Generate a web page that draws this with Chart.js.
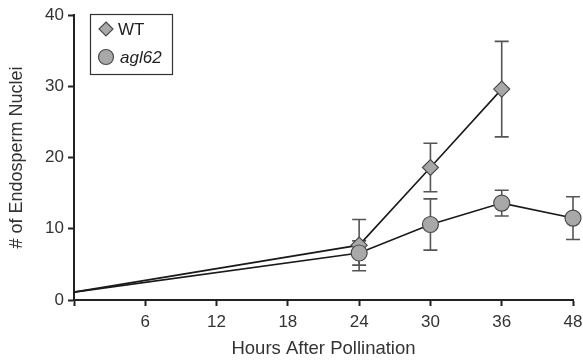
<!DOCTYPE html>
<html>
<head>
<meta charset="utf-8">
<script src="https://cdn.jsdelivr.net/npm/chart.js@4.4.0/dist/chart.umd.min.js"></script>
<style>
  html, body { margin: 0; padding: 0; background: #fff; }
  #wrap { width: 583px; height: 360px; }
</style>
</head>
<body>
<div id="wrap"><canvas id="grafico" width="583" height="360"></canvas></div>
<script>
// Datos
const horas = ['0', '6', '12', '18', '24', '30', '36', '48'];
const wtMedia = [1.1, null, null, null, 7.7, 18.6, 29.6, null];
const wtError = [0, null, null, null, 3.6, 3.4, 6.7, null];
const aglMedia = [1.1, null, null, null, 6.6, 10.6, 13.6, 11.5];
const aglError = [0, null, null, null, 1.7, 3.6, 1.8, 3.0];
const yTicks = [0, 10, 20, 30, 40];

const FUENTE = '"Liberation Sans", Arial, sans-serif';
const GRIS = '#a8a8a8';
const BORDE = '#4a4a4a';

// Plugin para barras de error (detrás de los marcadores)
const barrasError = {
  id: 'barrasError',
  beforeDatasetsDraw(chart) {
    const ctx = chart.ctx;
    const x = chart.scales.x, y = chart.scales.y;
    ctx.save();
    ctx.strokeStyle = '#555';
    ctx.lineWidth = 1.6;
    [[wtMedia, wtError], [aglMedia, aglError]].forEach(([med, err]) => {
      med.forEach((v, i) => {
        if (v === null || !err[i]) return;
        const px = x.getPixelForValue(i);
        const top = y.getPixelForValue(v + err[i]);
        const bot = y.getPixelForValue(v - err[i]);
        ctx.beginPath();
        ctx.moveTo(px, top); ctx.lineTo(px, bot);
        ctx.moveTo(px - 7, top); ctx.lineTo(px + 7, top);
        ctx.moveTo(px - 7, bot); ctx.lineTo(px + 7, bot);
        ctx.stroke();
      });
    });
    ctx.restore();
  }
};

// Leyenda dentro del área del gráfico
const leyenda = {
  id: 'leyenda',
  afterDraw(chart) {
    const ctx = chart.ctx;
    ctx.save();
    ctx.strokeStyle = '#333';
    ctx.lineWidth = 1.2;
    ctx.strokeRect(90.5, 14.5, 82, 60);
    // rombo
    ctx.fillStyle = GRIS;
    ctx.strokeStyle = BORDE;
    ctx.beginPath();
    ctx.moveTo(106, 22); ctx.lineTo(113, 29); ctx.lineTo(106, 36); ctx.lineTo(99, 29);
    ctx.closePath(); ctx.fill(); ctx.stroke();
    // círculo
    ctx.beginPath();
    ctx.arc(106, 57, 7.5, 0, Math.PI * 2);
    ctx.fill(); ctx.stroke();
    ctx.fillStyle = '#222';
    ctx.textBaseline = 'middle';
    ctx.font = '17px ' + FUENTE;
    ctx.fillText('WT', 118, 30);
    ctx.font = 'italic 17px ' + FUENTE;
    ctx.fillText('agl62', 120, 58);
    ctx.restore();
  }
};

const radios = med => med.map((v, i) => (i === 0 ? 0 : 8));

new Chart(document.getElementById('grafico'), {
  type: 'line',
  data: {
    labels: horas,
    datasets: [
      {
        label: 'agl62',
        data: aglMedia,
        borderColor: '#1a1a1a',
        borderWidth: 1.6,
        pointStyle: 'circle',
        pointRadius: radios(aglMedia),
        pointBackgroundColor: GRIS,
        pointBorderColor: BORDE,
        pointBorderWidth: 1.2,
        spanGaps: true,
        tension: 0
      },
      {
        label: 'WT',
        data: wtMedia,
        borderColor: '#1a1a1a',
        borderWidth: 1.6,
        pointStyle: 'rectRot',
        pointRadius: radios(wtMedia),
        pointBackgroundColor: GRIS,
        pointBorderColor: BORDE,
        pointBorderWidth: 1.2,
        spanGaps: true,
        tension: 0
      }
    ]
  },
  options: {
    responsive: false,
    animation: false,
    devicePixelRatio: 1,
    layout: { padding: { top: 15, right: 10, left: 0, bottom: 0 } },
    plugins: { legend: { display: false }, tooltip: { enabled: false } },
    scales: {
      x: {
        type: 'category',
        offset: false,
        grid: { drawOnChartArea: false, drawTicks: true, tickLength: 6, tickWidth: 2, tickColor: '#222' },
        border: { color: '#222', width: 2 },
        ticks: {
          color: '#333',
          font: { family: FUENTE, size: 17 },
          padding: 6,
          maxRotation: 0,
          autoSkip: false,
          callback: (val, i) => (i === 0 ? '' : horas[i])
        },
        title: {
          display: true,
          text: 'Hours After Pollination',
          color: '#333',
          font: { family: FUENTE, size: 18.5 },
          padding: { top: 0, bottom: 0 }
        },
        afterFit: s => { s.height = 60; s.paddingLeft = 0; s.paddingRight = 0; }
      },
      y: {
        min: 0,
        max: 40,
        afterBuildTicks: s => { s.ticks = yTicks.map(v => ({ value: v })); },
        grid: { drawOnChartArea: false, drawTicks: true, tickLength: 6, tickWidth: 2, tickColor: '#222' },
        border: { color: '#222', width: 2 },
        ticks: {
          color: '#333',
          font: { family: FUENTE, size: 17 },
          padding: 4
        },
        title: {
          display: true,
          text: '# of Endosperm Nuclei',
          color: '#333',
          font: { family: FUENTE, size: 18 },
          padding: { top: 6, bottom: 0 }
        },
        afterFit: s => { s.width = 74; }
      }
    }
  },
  plugins: [barrasError, leyenda]
});
</script>
</body>
</html>
